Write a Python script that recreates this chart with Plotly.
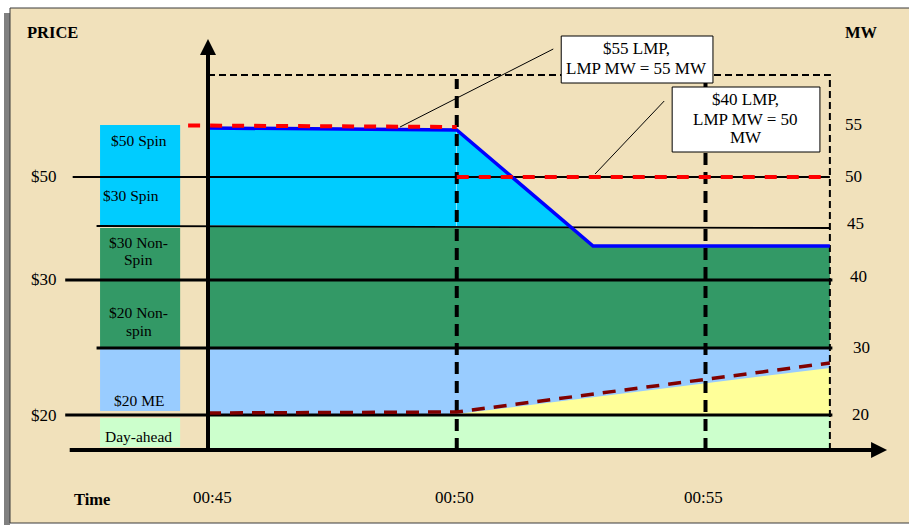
import numpy as np
import plotly.graph_objects as go

SERIF = "Liberation Serif"

# ----------------------------- data ---------------------------------------
# time axis, minutes after 00:00
time_ticks = [45, 50, 55]
time_labels = ["00:45", "00:50", "00:55"]
interval_start = 45.0
interval_end = 57.5

# vertical drawing scale: level units above the time axis (schematic chart)
mw_labels = ["55", "50", "45", "40", "30", "20"]
mw_label_levels = [326, 274, 227, 174, 103, 36]
mw_label_x = [57.98, 57.98, 58.01, 58.08, 58.13, 58.12]

price_labels = ["$50", "$30", "$20"]
price_label_levels = [274, 171, 35]
price_label_x = 41.71

level_50 = 273          # $50 price line
level_45 = [224, 222]   # thin 45 MW line (interval start, end)
level_30 = 170          # $30 price line / 40 MW
level_30mw = 102        # 30 MW line
level_20 = 35           # $20 price line / 20 MW

# blue LMP MW line
lmp_mw_t = [45, 50, 52.74, 57.5]
lmp_mw_level = [322, 320, 204, 204]

# red dashed LMP price lines
lmp55_t = [44.6, 50]
lmp55_level = [324.5, 323]
lmp50_t = [50, 57.5]
lmp50_level = [273, 273]

# dark red dashed ramp and yellow ME dispatch
ramp_t = [45, 50, 57.5]
ramp_level = [37, 38, 87]
me_dispatch_t = [50, 57.5]
me_dispatch_level = [36, 82]

# offer stack (left blocks)
stack_names = ["$50 Spin", "$30 Spin", "$30 Non-Spin", "$20 Non-spin", "$20 ME", "Day-ahead"]
stack_bottom = [273, 224, 170, 103, 39, 3]
stack_top = [325, 273, 222, 170, 101, 32]
stack_colors = ["#00CCFF", "#00CCFF", "#339966", "#339966", "#99CCFF", "#CCFFCC"]
stack_text_lines = [["$50 Spin"], ["$30 Spin"], ["$30 Non-", "Spin"],
                    ["$20 Non-", "spin"], ["$20 ME"], ["Day-ahead"]]
stack_text_levels = [[310], [255], [208, 191], [138, 120], [50], [14]]
stack_text_x = [43.61, 43.45, 43.61, 43.61, 43.61, 43.61]
stack_x0, stack_x1 = 42.83, 44.44

# callouts
callout_lines = [["$55 LMP,", "LMP MW = 55 MW"], ["$40 LMP,", "LMP MW = 50", "MW"]]
callout_box_t = [[52.10, 55.15], [54.33, 57.30]]
callout_box_level = [[367, 414], [298, 363]]
callout_text_t = [53.62, 55.81]
callout_text_levels = [[401.5, 381.5], [351, 331, 312.5]]
leader_t = [[48.86, 51.94], [52.78, 54.17]]
leader_level = [[323, 401], [276, 349]]

# line extents
line_left_50 = 42.28
line_left_thin = 42.76
line_left_thick = 42.13
line_right = 57.55
axis_left = 42.19
axis_right_tip = 58.65
axis_top_tip = 411
box_top = 375
vdash_top = 371

# ----------------------------- figure --------------------------------------
fig = go.Figure()


def area(xs, ys, color, outline=None):
    fig.add_trace(go.Scatter(
        x=xs, y=ys, fill="toself", fillcolor=color,
        mode="lines" if outline else "none",
        line=dict(color=outline or color, width=1),
        hoverinfo="skip", showlegend=False))


def line(xs, ys, color="black", width=2, dash="solid"):
    fig.add_trace(go.Scatter(
        x=xs, y=ys, mode="lines", line=dict(color=color, width=width, dash=dash),
        hoverinfo="skip", showlegend=False))


# offer stack as floating bars
fig.add_trace(go.Bar(
    x=[(stack_x0 + stack_x1) / 2] * len(stack_names),
    base=stack_bottom,
    y=[t - b for t, b in zip(stack_top, stack_bottom)],
    width=stack_x1 - stack_x0,
    marker=dict(color=stack_colors, line=dict(width=0)),
    hoverinfo="skip", showlegend=False))

T0, T1 = interval_start, interval_end


def floor45(t):
    return float(np.interp(t, [T0, T1], level_45))


def blue(t):
    return float(np.interp(t, lmp_mw_t, lmp_mw_level))


# crossing of the blue line with the 45 MW line
t1, t2 = lmp_mw_t[1], lmp_mw_t[2]
f1 = blue(t1) - floor45(t1)
f2 = blue(t2) - floor45(t2)
tc = t1 + f1 / (f1 - f2) * (t2 - t1)

# day-ahead (light green)
area([T0, T1, T1, T0], [0, 0, level_20, level_20], "#CCFFCC")
# $20 ME band (light blue)
area([T0, T1, T1, T0], [level_20, level_20, level_30mw, level_30mw], "#99CCFF")
# yellow ME dispatch
area([me_dispatch_t[0], me_dispatch_t[1], me_dispatch_t[1]],
     [me_dispatch_level[0], me_dispatch_level[1], level_20], "#FFFF99")
# non-spin (green)
g_t = [T0, 50, tc, lmp_mw_t[2], T1]
g_top = [min(blue(t), floor45(t)) for t in g_t]
area(g_t + [T1, T0], g_top + [level_30mw, level_30mw], "#339966")
# spin (cyan)
area([T0, 50, 50, T0], [blue(T0), blue(50), floor45(50), floor45(T0)],
     "#00CCFF", outline="#E8F4F4")
area([50, tc, 50], [blue(50), floor45(tc), floor45(50)], "#00CCFF", outline="#E8F4F4")

# horizontal level lines
line([line_left_50, T1], [level_50, level_50], width=2)
line([line_left_thin, T1], level_45, width=1.8)
line([line_left_thick, line_right], [level_30, level_30], width=3)
line([line_left_thin, line_right], [level_30mw, level_30mw], width=3)
line([line_left_thick, line_right], [level_20, level_20], width=3)

# dashed interval box and 5-minute markers
line([T0, T1, T1], [box_top, box_top, 0], width=2, dash="7px,4px")
for t in time_ticks[1:]:
    line([t, t], [0, vdash_top], width=4, dash="12px,7px")

# LMP lines
line(lmp_mw_t, lmp_mw_level, color="#0000FF", width=3.5)
line(lmp55_t, lmp55_level, color="#FF0000", width=4, dash="12px,10px")
line(lmp50_t, lmp50_level, color="#FF0000", width=4, dash="12px,10px")
line(ramp_t, ramp_level, color="#800000", width=3.5, dash="13px,9px")

# leader lines
for lt, ll in zip(leader_t, leader_level):
    line(lt, ll, width=1)

shapes = []
# frame shadow and frame
shapes.append(dict(type="rect", xref="paper", yref="paper", x0=4 / 909, x1=10 / 909,
                   y0=0, y1=1 - 13 / 525, fillcolor="#808080", line=dict(width=0),
                   layer="below"))
shapes.append(dict(type="rect", xref="paper", yref="paper", x0=10 / 909, x1=1.01,
                   y0=1 - 523 / 525, y1=1 - 8 / 525, fillcolor="#F1E1BB",
                   line=dict(color="#3A3A3A", width=1), layer="below"))
# callout boxes
for bt, bl in zip(callout_box_t, callout_box_level):
    shapes.append(dict(type="rect", xref="x", yref="y", x0=bt[0], x1=bt[1],
                       y0=bl[0], y1=bl[1], fillcolor="white",
                       line=dict(color="black", width=1), layer="above"))

ann = []


def text(x, y, s, size=17, bold=False, xref="x", yref="y"):
    ann.append(dict(x=x, y=y, xref=xref, yref=yref, text=f"<b>{s}</b>" if bold else s,
                    showarrow=False, xanchor="center", yanchor="middle",
                    font=dict(family=SERIF, size=size, color="black")))


# axes arrows
ann.append(dict(x=axis_right_tip, y=0, ax=axis_left, ay=0, xref="x", yref="y",
                axref="x", ayref="y", text="", showarrow=True, arrowhead=2,
                arrowsize=0.8, arrowwidth=4, arrowcolor="black"))
ann.append(dict(x=T0, y=axis_top_tip, ax=T0, ay=0, xref="x", yref="y",
                axref="x", ayref="y", text="", showarrow=True, arrowhead=2,
                arrowsize=0.8, arrowwidth=4, arrowcolor="black"))

for lines_, lv, xx in zip(stack_text_lines, stack_text_levels, stack_text_x):
    for s, y in zip(lines_, lv):
        text(xx, y, s, size=15.5)
for lines_, lv, xx in zip(callout_lines, callout_text_levels, callout_text_t):
    for s, y in zip(lines_, lv):
        text(xx, y, s, size=17)
for s, y in zip(price_labels, price_label_levels):
    text(price_label_x, y, s, size=17)
for s, y, xx in zip(mw_labels, mw_label_levels, mw_label_x):
    text(xx, y, s, size=17)
for s, t in zip(time_labels, time_ticks):
    text(t + (0.09 if t == 45 else -0.04), -47, s, size=17)

text(52 / 909, 1 - 32 / 525, "PRICE", size=16.5, bold=True, xref="paper", yref="paper")
text(861 / 909, 1 - 33 / 525, "MW", size=16.5, bold=True, xref="paper", yref="paper")
text(91.5 / 909, 1 - 499 / 525, "Time", size=16.5, bold=True, xref="paper", yref="paper")

fig.update_layout(
    width=909, height=525, autosize=False,
    margin=dict(l=0, r=0, t=0, b=0),
    paper_bgcolor="white", plot_bgcolor="rgba(0,0,0,0)",
    barmode="overlay",
    xaxis=dict(range=[45 - 208 / 49.75, 45 + 701 / 49.75], visible=False, fixedrange=True),
    yaxis=dict(range=[-75, 450], visible=False, fixedrange=True),
    shapes=shapes, annotations=ann, showlegend=False,
)

fig.write_html("out.html", config={"displayModeBar": False},
               post_script="document.body.style.margin='0';document.body.style.overflow='hidden';")
